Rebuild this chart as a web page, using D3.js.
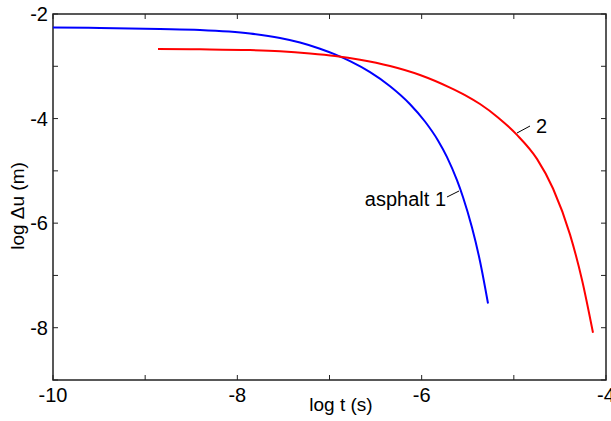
<!DOCTYPE html>
<html>
<head>
<meta charset="utf-8">
<script src="https://cdn.jsdelivr.net/npm/d3@7"></script>
<style>
  body { margin: 0; background: #fff; }
  text { font-family: "Liberation Sans", Arial, Helvetica, sans-serif; fill: #000; }
</style>
</head>
<body>
<div id="chart"></div>
<script>
// Curve 1 (asphalt 1)
var asphalt1LogT = [-10, -9.49, -8.839, -8.405, -7.863, -7.537, -7.32, -7.103, -6.94, -6.777, -6.56, -6.343, -6.126, -5.964, -5.823, -5.725, -5.617, -5.552, -5.454, -5.367, -5.28];
var asphalt1LogU = [-2.258, -2.268, -2.287, -2.306, -2.373, -2.459, -2.545, -2.664, -2.773, -2.903, -3.113, -3.381, -3.725, -4.056, -4.418, -4.737, -5.179, -5.5, -6.085, -6.728, -7.537];

// Curve 2
var asphalt2LogT = [-8.861, -8.405, -7.863, -7.537, -7.212, -6.94, -6.669, -6.343, -6.018, -5.693, -5.53, -5.367, -5.172, -4.966, -4.749, -4.575, -4.391, -4.26, -4.141];
var asphalt2LogU = [-2.669, -2.675, -2.69, -2.713, -2.754, -2.802, -2.873, -2.994, -3.166, -3.407, -3.55, -3.722, -3.978, -4.312, -4.771, -5.337, -6.215, -7.087, -8.097];

var xTicks = [-10, -9, -8, -7, -6, -5, -4];
var yTicks = [-2, -3, -4, -5, -6, -7, -8, -9];
var xLabels = [-10, -8, -6, -4];
var yLabels = [-2, -4, -6, -8];

var width = 611, height = 421;
var plotLeft = 53, plotRight = 606, plotTop = 14, plotBottom = 380;

var svg = d3.select("#chart")
  .append("svg")
  .attr("width", width)
  .attr("height", height);

var x = d3.scaleLinear().domain([-10, -4]).range([plotLeft, plotRight]);
var y = d3.scaleLinear().domain([-2, -9]).range([plotTop, plotBottom]);

// Ticks inside the box, on all four sides
var tickLen = 5;
var axisColor = "#222";
var ticks = svg.append("g").attr("stroke", axisColor).attr("stroke-width", 1);
xTicks.forEach(function(t) {
  ticks.append("line").attr("x1", x(t)).attr("x2", x(t)).attr("y1", plotBottom).attr("y2", plotBottom - tickLen);
  ticks.append("line").attr("x1", x(t)).attr("x2", x(t)).attr("y1", plotTop).attr("y2", plotTop + tickLen);
});
yTicks.forEach(function(t) {
  ticks.append("line").attr("x1", plotLeft).attr("x2", plotLeft + tickLen).attr("y1", y(t)).attr("y2", y(t));
  ticks.append("line").attr("x1", plotRight).attr("x2", plotRight - tickLen).attr("y1", y(t)).attr("y2", y(t));
});

// Box
svg.append("rect")
  .attr("x", plotLeft).attr("y", plotTop)
  .attr("width", plotRight - plotLeft).attr("height", plotBottom - plotTop)
  .attr("fill", "none")
  .attr("stroke", axisColor)
  .attr("stroke-width", 1.5);

// Tick labels
svg.append("g").selectAll("text")
  .data(xLabels)
  .join("text")
  .attr("x", function(d) { return x(d); })
  .attr("y", 402)
  .attr("text-anchor", "middle")
  .attr("font-size", 20)
  .text(function(d) { return d; });

svg.append("g").selectAll("text")
  .data(yLabels)
  .join("text")
  .attr("x", plotLeft - 5)
  .attr("y", function(d) { return y(d) + 7; })
  .attr("text-anchor", "end")
  .attr("font-size", 20)
  .text(function(d) { return d; });

// Axis titles
svg.append("text")
  .attr("x", 341)
  .attr("y", 411)
  .attr("text-anchor", "middle")
  .attr("font-size", 19)
  .text("log t (s)");

svg.append("text")
  .attr("transform", "translate(24,206) rotate(-90)")
  .attr("text-anchor", "middle")
  .attr("font-size", 19)
  .text("log \u0394u (m)");

// Curves
var line = d3.line()
  .x(function(d) { return x(d[0]); })
  .y(function(d) { return y(d[1]); })
  .curve(d3.curveMonotoneX);

svg.append("path")
  .datum(d3.zip(asphalt1LogT, asphalt1LogU))
  .attr("d", line)
  .attr("fill", "none")
  .attr("stroke", "#0000ff")
  .attr("stroke-width", 2);

svg.append("path")
  .datum(d3.zip(asphalt2LogT, asphalt2LogU))
  .attr("d", line)
  .attr("fill", "none")
  .attr("stroke", "#ff0000")
  .attr("stroke-width", 2);

// Annotations with leader lines
svg.append("line")
  .attr("x1", 447).attr("y1", 197).attr("x2", 459).attr("y2", 191)
  .attr("stroke", "#000").attr("stroke-width", 1);
svg.append("text")
  .attr("x", 446).attr("y", 206)
  .attr("text-anchor", "end")
  .attr("font-size", 20)
  .text("asphalt 1");

svg.append("line")
  .attr("x1", 517).attr("y1", 133).attr("x2", 530).attr("y2", 126)
  .attr("stroke", "#000").attr("stroke-width", 1);
svg.append("text")
  .attr("x", 536).attr("y", 133)
  .attr("font-size", 20)
  .text("2");
</script>
</body>
</html>
